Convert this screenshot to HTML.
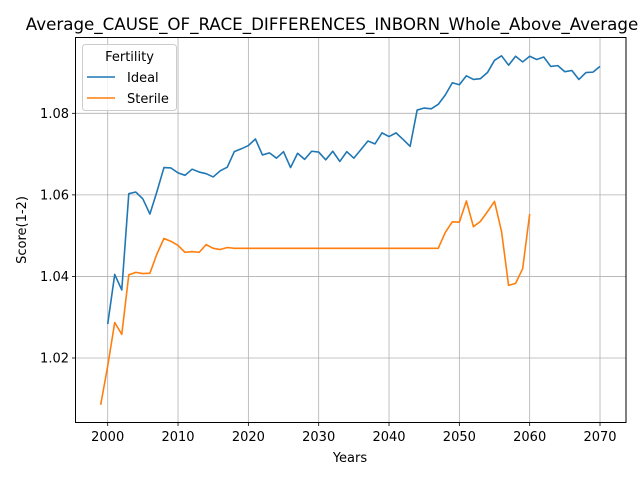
<!DOCTYPE html>
<html><head><meta charset="utf-8"><style>
html,body{margin:0;padding:0;background:#fff;width:640px;height:480px;overflow:hidden}
svg{font-family:"DejaVu Sans","Liberation Sans",sans-serif}
</style></head><body>
<svg id="chart" width="640" height="480" viewBox="0 0 640 480" xmlns="http://www.w3.org/2000/svg">
<rect width="640" height="480" fill="#fff"/>
<g id="grid"></g>
<g id="series"></g>
<rect x="75.5" y="37.5" width="550.5" height="385" fill="none" stroke="#000" stroke-width="1"/>
<g id="ticks"></g>
<text x="332" y="30" font-size="16.7" text-anchor="middle">Average_CAUSE_OF_RACE_DIFFERENCES_INBORN_Whole_Above_Average</text>
<text x="350" y="462" font-size="13" text-anchor="middle">Years</text>
<text x="26" y="230" font-size="13" text-anchor="middle" transform="rotate(-90 26 230)">Score(1-2)</text>
<g>
<rect x="82.5" y="44.5" width="94" height="66" rx="3" fill="#fff" fill-opacity="0.8" stroke="#ccc"/>
<text x="129.5" y="61" font-size="13" text-anchor="middle">Fertility</text>
<line x1="87" y1="77" x2="115" y2="77" stroke="#1f77b4" stroke-width="1.6"/>
<text x="127" y="82" font-size="13">Ideal</text>
<line x1="87" y1="98" x2="115" y2="98" stroke="#ff7f0e" stroke-width="1.6"/>
<text x="127" y="103" font-size="13">Sterile</text>
</g>
</svg>
<script>
const idealStart = 2000;
const idealValues = [1.0283,1.0405,1.0367,1.0603,1.0607,1.0590,1.0553,1.0608,1.0667,1.0666,1.0654,1.0648,1.0663,1.0656,1.0652,1.0644,1.0659,1.0668,1.0706,1.0713,1.0721,1.0737,1.0698,1.0703,1.0690,1.0706,1.0667,1.0702,1.0687,1.0707,1.0705,1.0686,1.0707,1.0682,1.0706,1.0690,1.0711,1.0732,1.0725,1.0752,1.0743,1.0752,1.0736,1.0719,1.0808,1.0813,1.0811,1.0822,1.0845,1.0875,1.0870,1.0892,1.0883,1.0885,1.0900,1.0930,1.0941,1.0918,1.0940,1.0926,1.0940,1.0932,1.0938,1.0915,1.0917,1.0902,1.0905,1.0883,1.0900,1.0901,1.0915];
const sterileStart = 1999;
const sterileValues = [1.0085,1.0180,1.0287,1.0258,1.0404,1.0410,1.0407,1.0408,1.0455,1.0493,1.0486,1.0476,1.0459,1.0461,1.0459,1.0478,1.0469,1.0466,1.0471,1.0469,1.0469,1.0469,1.0469,1.0469,1.0469,1.0469,1.0469,1.0469,1.0469,1.0469,1.0469,1.0469,1.0469,1.0469,1.0469,1.0469,1.0469,1.0469,1.0469,1.0469,1.0469,1.0469,1.0469,1.0469,1.0469,1.0469,1.0469,1.0469,1.0469,1.0508,1.0534,1.0533,1.0585,1.0522,1.0535,1.0559,1.0584,1.0510,1.0378,1.0383,1.0419,1.0553];
const xTicks = [2000,2010,2020,2030,2040,2050,2060,2070];
const yTicks = [1.02,1.04,1.06,1.08];
const yTickLabels = ["1.02","1.04","1.06","1.08"];

const NS = "http://www.w3.org/2000/svg";
const X = yr => 107.7 + (yr - 2000) * 7.033;
const Y = v => 358 - (v - 1.02) * 4078;
function mk(tag, attrs, parent){const e=document.createElementNS(NS,tag);for(const k in attrs)e.setAttribute(k,attrs[k]);parent.appendChild(e);return e;}
const grid=document.getElementById('grid'), ticks=document.getElementById('ticks'), series=document.getElementById('series');
xTicks.forEach(t=>{
  const x=X(t);
  const g=mk('line',{x1:x,y1:37.5,x2:x,y2:422.5,stroke:'#b0b0b0','stroke-width':0.8},grid);
  
  
  const tk=mk('line',{x1:x,y1:422.5,x2:x,y2:426,stroke:'#000','stroke-width':0.8},ticks);
  
  
  const tx=mk('text',{x:x,y:441,'font-size':13,'text-anchor':'middle'},ticks);
  tx.textContent=t;
  
  
});
yTicks.forEach((t,i)=>{
  const y=Y(t);
  const g=mk('line',{x1:75.5,y1:y,x2:626,y2:y,stroke:'#b0b0b0','stroke-width':0.8},grid);
  
  
  const tk=mk('line',{x1:72,y1:y,x2:75.5,y2:y,stroke:'#000','stroke-width':0.8},ticks);
  
  
  const tx=mk('text',{x:69,y:y+4.5,'font-size':13,'text-anchor':'end'},ticks);
  tx.textContent=yTickLabels[i];
  
  
});
function line(start, vals, color, name){
  const pts=vals.map((v,i)=>X(start+i).toFixed(2)+','+Y(v).toFixed(2)).join(' ');
  const p=mk('polyline',{points:pts,fill:'none',stroke:color,'stroke-width':1.6,'stroke-linejoin':'round'},series);
  
  
}
line(idealStart, idealValues, '#1f77b4', 'ideal-line');
line(sterileStart, sterileValues, '#ff7f0e', 'sterile-line');
</script>
</body></html>
